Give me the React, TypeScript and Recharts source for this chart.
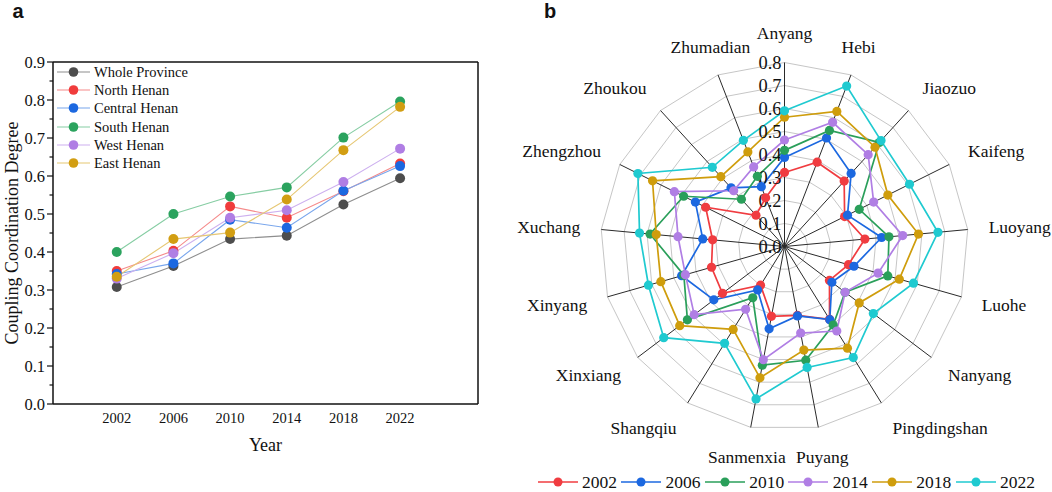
import React from 'react';
import {
  LineChart, Line, XAxis, YAxis, ReferenceLine, Legend,
  RadarChart, Radar, PolarGrid, PolarAngleAxis, PolarRadiusAxis,
} from 'recharts';

const SERIF = '"Liberation Serif", "Times New Roman", serif';
const SANS = '"Liberation Sans", Arial, sans-serif';

// ---------- Panel a data ----------
const years = [2002, 2006, 2010, 2014, 2018, 2022];
const wholeProvince = [0.308, 0.363, 0.434, 0.443, 0.525, 0.594];
const northHenan = [0.35, 0.403, 0.52, 0.49, 0.56, 0.633];
const centralHenan = [0.342, 0.37, 0.485, 0.464, 0.561, 0.626];
const southHenan = [0.4, 0.5, 0.546, 0.57, 0.701, 0.796];
const westHenan = [0.33, 0.397, 0.49, 0.51, 0.584, 0.672];
const eastHenan = [0.335, 0.434, 0.451, 0.538, 0.668, 0.782];
const yMajorTicks = [0, 0.1, 0.2, 0.3, 0.4, 0.5, 0.6, 0.7, 0.8, 0.9];
const yMinorTicks = [0.05, 0.15, 0.25, 0.35, 0.45, 0.55, 0.65, 0.75, 0.85];

// ---------- Panel b data ----------
const cities = ['Anyang', 'Hebi', 'Jiaozuo', 'Kaifeng', 'Luoyang', 'Luohe', 'Nanyang', 'Pingdingshan', 'Puyang',
  'Sanmenxia', 'Shangqiu', 'Xinxiang', 'Xinyang', 'Xuchang', 'Zhengzhou', 'Zhoukou', 'Zhumadian'];
const v2002 = [0.322, 0.393, 0.385, 0.292, 0.351, 0.289, 0.245, 0.372, 0.305, 0.309, 0.198, 0.338, 0.33, 0.314, 0.383, 0.184, 0.227];
const v2006 = [0.387, 0.506, 0.43, 0.306, 0.424, 0.314, 0.258, 0.374, 0.307, 0.364, 0.222, 0.385, 0.465, 0.357, 0.433, 0.345, 0.279];
const v2010 = [0.418, 0.541, 0.612, 0.363, 0.456, 0.467, 0.33, 0.402, 0.503, 0.525, 0.262, 0.529, 0.455, 0.587, 0.49, 0.278, 0.327];
const v2014 = [0.463, 0.579, 0.54, 0.433, 0.516, 0.423, 0.33, 0.432, 0.383, 0.501, 0.321, 0.492, 0.448, 0.465, 0.535, 0.328, 0.371];
const v2018 = [0.562, 0.63, 0.584, 0.502, 0.585, 0.519, 0.407, 0.52, 0.458, 0.581, 0.424, 0.571, 0.559, 0.56, 0.641, 0.411, 0.441];
const v2022 = [0.59, 0.748, 0.623, 0.607, 0.67, 0.583, 0.484, 0.568, 0.535, 0.674, 0.495, 0.658, 0.615, 0.633, 0.712, 0.466, 0.495];
const radarYears = ['2002', '2006', '2010', '2014', '2018', '2022'];
const radarTicks = [0, 0.1, 0.2, 0.3, 0.4, 0.5, 0.6, 0.7, 0.8];

// ---------- styles ----------
const lineSeries = [
  { key: 'whole', name: 'Whole Province', values: wholeProvince, dot: '#4d4d4d', line: '#8e8e8e' },
  { key: 'north', name: 'North Henan', values: northHenan, dot: '#f03c3c', line: '#f58a8a' },
  { key: 'central', name: 'Central Henan', values: centralHenan, dot: '#1c68e0', line: '#79a6ec' },
  { key: 'south', name: 'South Henan', values: southHenan, dot: '#2ba35e', line: '#86cda3' },
  { key: 'west', name: 'West Henan', values: westHenan, dot: '#b07ee4', line: '#cdb0ef' },
  { key: 'east', name: 'East Henan', values: eastHenan, dot: '#d29e12', line: '#e6c773' },
];
const radarColors = ['#f03c40', '#1c68e0', '#2a9f5a', '#b07ee4', '#cf9d0c', '#1fcad0'];
const radarSeries = [v2002, v2006, v2010, v2014, v2018, v2022];

const lineData = years.map((year, i) => {
  const row: any = { year };
  lineSeries.forEach((s) => { row[s.key] = s.values[i]; });
  return row;
});

const radarData = cities.map((city, i) => {
  const row: any = { city };
  radarYears.forEach((y, k) => { row['y' + y] = radarSeries[k][i]; });
  return row;
});

// ---------- geometry ----------
const PLOT_LEFT = 53;
const RADAR_LEFT = 470;
const CX = 784.5 - RADAR_LEFT;
const CY = 246.5;
const OUTER_R = 184;
const LABEL_R = 205;

const YTick = (props: any) => {
  const { y, payload } = props;
  const v = payload.value;
  const major = yMajorTicks.some((t) => Math.abs(t - v) < 1e-6);
  return (
    <g>
      <line x1={PLOT_LEFT} x2={PLOT_LEFT - (major ? 6 : 3.5)} y1={y} y2={y} stroke="#111" strokeWidth={1.2} />
      {major && (
        <text x={45} y={y} textAnchor="end" dominantBaseline="central" fontFamily={SERIF} fontSize={16.5} fill="#111">
          {v.toFixed(1)}
        </text>
      )}
    </g>
  );
};

const LineLegend = () => (
  <div style={{ fontFamily: SERIF, fontSize: 14.5, color: '#111' }}>
    {lineSeries.map((s) => (
      <div key={s.key} style={{ display: 'flex', alignItems: 'center', height: 18.3 }}>
        <svg width={34} height={18} style={{ display: 'block' }}>
          <line x1={0} x2={33} y1={9} y2={9} stroke={s.line} strokeWidth={1.2} />
          <circle cx={16.5} cy={9} r={4.8} fill={s.dot} />
        </svg>
        <span style={{ marginLeft: 3, lineHeight: '18px', whiteSpace: 'nowrap' }}>{s.name}</span>
      </div>
    ))}
  </div>
);

const RadarLegend = () => (
  <div style={{ display: 'flex', alignItems: 'center', fontFamily: SERIF, fontSize: 17.5, color: '#111' }}>
    {radarYears.map((y, k) => (
      <div key={y} style={{ display: 'flex', alignItems: 'center', marginRight: 4.3 }}>
        <svg width={40} height={20} style={{ display: 'block' }}>
          <line x1={0} x2={40} y1={10} y2={10} stroke={radarColors[k]} strokeWidth={1.6} />
          <circle cx={20} cy={10} r={4.5} fill={radarColors[k]} />
        </svg>
        <span style={{ marginLeft: 4.3, lineHeight: '20px' }}>{y}</span>
      </div>
    ))}
  </div>
);

const AngleTick = (props: any) => {
  const { x, y, payload } = props;
  const dx = x - CX;
  const dy = y - CY;
  const len = Math.hypot(dx, dy) || 1;
  const s = dx / len;
  const c = -dy / len;
  const px = CX + LABEL_R * s;
  const py = CY - LABEL_R * c;
  const anchor = Math.abs(s) < 0.4 ? 'middle' : s > 0 ? 'start' : 'end';
  return (
    <text x={px} y={py - 9 * c} textAnchor={anchor} dominantBaseline="central" fontFamily={SERIF} fontSize={17.5} fill="#111">
      {payload.value}
    </text>
  );
};

const RadiusTick = (props: any) => {
  const { y, payload } = props;
  return (
    <text x={CX - 3} y={y} textAnchor="end" dominantBaseline="central" fontFamily={SERIF} fontSize={18.4} fill="#111">
      {Number(payload.value).toFixed(1)}
    </text>
  );
};

export default function App() {
  return (
    <div style={{ position: 'absolute', left: 0, top: 0, width: 1052, height: 492, background: '#fff', overflow: 'hidden' }}>
      <div style={{ position: 'absolute', left: 0, top: 0 }}>
        <LineChart width={520} height={492} data={lineData} margin={{ top: 62, right: 42, bottom: 58, left: 8 }}>
          <XAxis
            dataKey="year"
            type="number"
            domain={[1997.5, 2027.5]}
            ticks={years}
            allowDataOverflow
            tickLine={false}
            tickSize={6}
            tickMargin={3}
            height={30}
            axisLine={{ stroke: '#111', strokeWidth: 1.5 }}
            tick={{ fontFamily: SERIF, fontSize: 14.5, fill: '#111' }}
            label={() => (
              <text x={265.5} y={445} textAnchor="middle" dominantBaseline="central" fontFamily={SERIF} fontSize={18} fill="#111">
                Year
              </text>
            )}
          />
          <YAxis
            type="number"
            domain={[0, 0.9]}
            ticks={[...yMajorTicks, ...yMinorTicks].sort((a, b) => a - b)}
            interval={0}
            width={45}
            tickLine={false}
            axisLine={{ stroke: '#111', strokeWidth: 1.5 }}
            tick={<YTick />}
            label={() => (
              <text x={12} y={233} transform="rotate(-90 12 233)" textAnchor="middle" dominantBaseline="central" fontFamily={SERIF} fontSize={18} fill="#111">
                Coupling Coordination Degree
              </text>
            )}
          />
          <ReferenceLine y={0.9} stroke="#111" strokeWidth={1.5} />
          <ReferenceLine x={2027.5} stroke="#111" strokeWidth={1.5} />
          <Legend
            layout="vertical"
            align="center"
            verticalAlign="middle"
            content={<LineLegend />}
            wrapperStyle={{ left: 57, top: 62.5, width: 200, height: 115 }}
          />
          {lineSeries.map((s) => (
            <Line
              key={s.key}
              dataKey={s.key}
              name={s.name}
              stroke={s.line}
              strokeWidth={1.1}
              dot={{ r: 5, fill: s.dot, stroke: 'none', strokeWidth: 0 }}
              isAnimationActive={false}
            />
          ))}
        </LineChart>
      </div>

      <div style={{ position: 'absolute', left: RADAR_LEFT, top: 0 }}>
        <RadarChart
          width={1052 - RADAR_LEFT}
          height={492}
          data={radarData}
          cx={CX}
          cy={CY}
          outerRadius={OUTER_R}
          margin={{ top: 0, right: 0, bottom: 0, left: 0 }}
        >
          <PolarGrid gridType="polygon" stroke="#c6c6c6" strokeWidth={1} radialLines={false} />
          <PolarGrid gridType="polygon" stroke="#2a2a2a" strokeWidth={1} polarRadius={[]} />
          <PolarAngleAxis dataKey="city" axisLine={false} tickLine={false} tick={<AngleTick />} />
          <PolarRadiusAxis
            angle={90}
            type="number"
            domain={[0, 0.8]}
            allowDecimals
            allowDataOverflow
            ticks={radarTicks}
            tickCount={9}
            axisLine={false}
            tickLine={false}
            tick={<RadiusTick />}
          />
          {radarYears.map((y, k) => (
            <Radar
              key={y}
              name={y}
              dataKey={'y' + y}
              stroke={radarColors[k]}
              strokeWidth={1.7}
              fill="none"
              fillOpacity={0}
              dot={{ r: 4.6, fill: radarColors[k], stroke: 'none', fillOpacity: 1 }}
              isAnimationActive={false}
            />
          ))}
          <Legend
            layout="vertical"
            align="center"
            verticalAlign="middle"
            content={<RadarLegend />}
            wrapperStyle={{ left: 537.7 - RADAR_LEFT, top: 471.7, width: 520, height: 20 }}
          />
        </RadarChart>
      </div>

      <svg width={1052} height={492} style={{ position: 'absolute', left: 0, top: 0, pointerEvents: 'none' }}>
        <text x={12.5} y={17.5} fontFamily={SANS} fontWeight="bold" fontSize={20} fill="#111">a</text>
        <text x={544} y={17.5} fontFamily={SANS} fontWeight="bold" fontSize={20} fill="#111">b</text>
      </svg>
    </div>
  );
}
